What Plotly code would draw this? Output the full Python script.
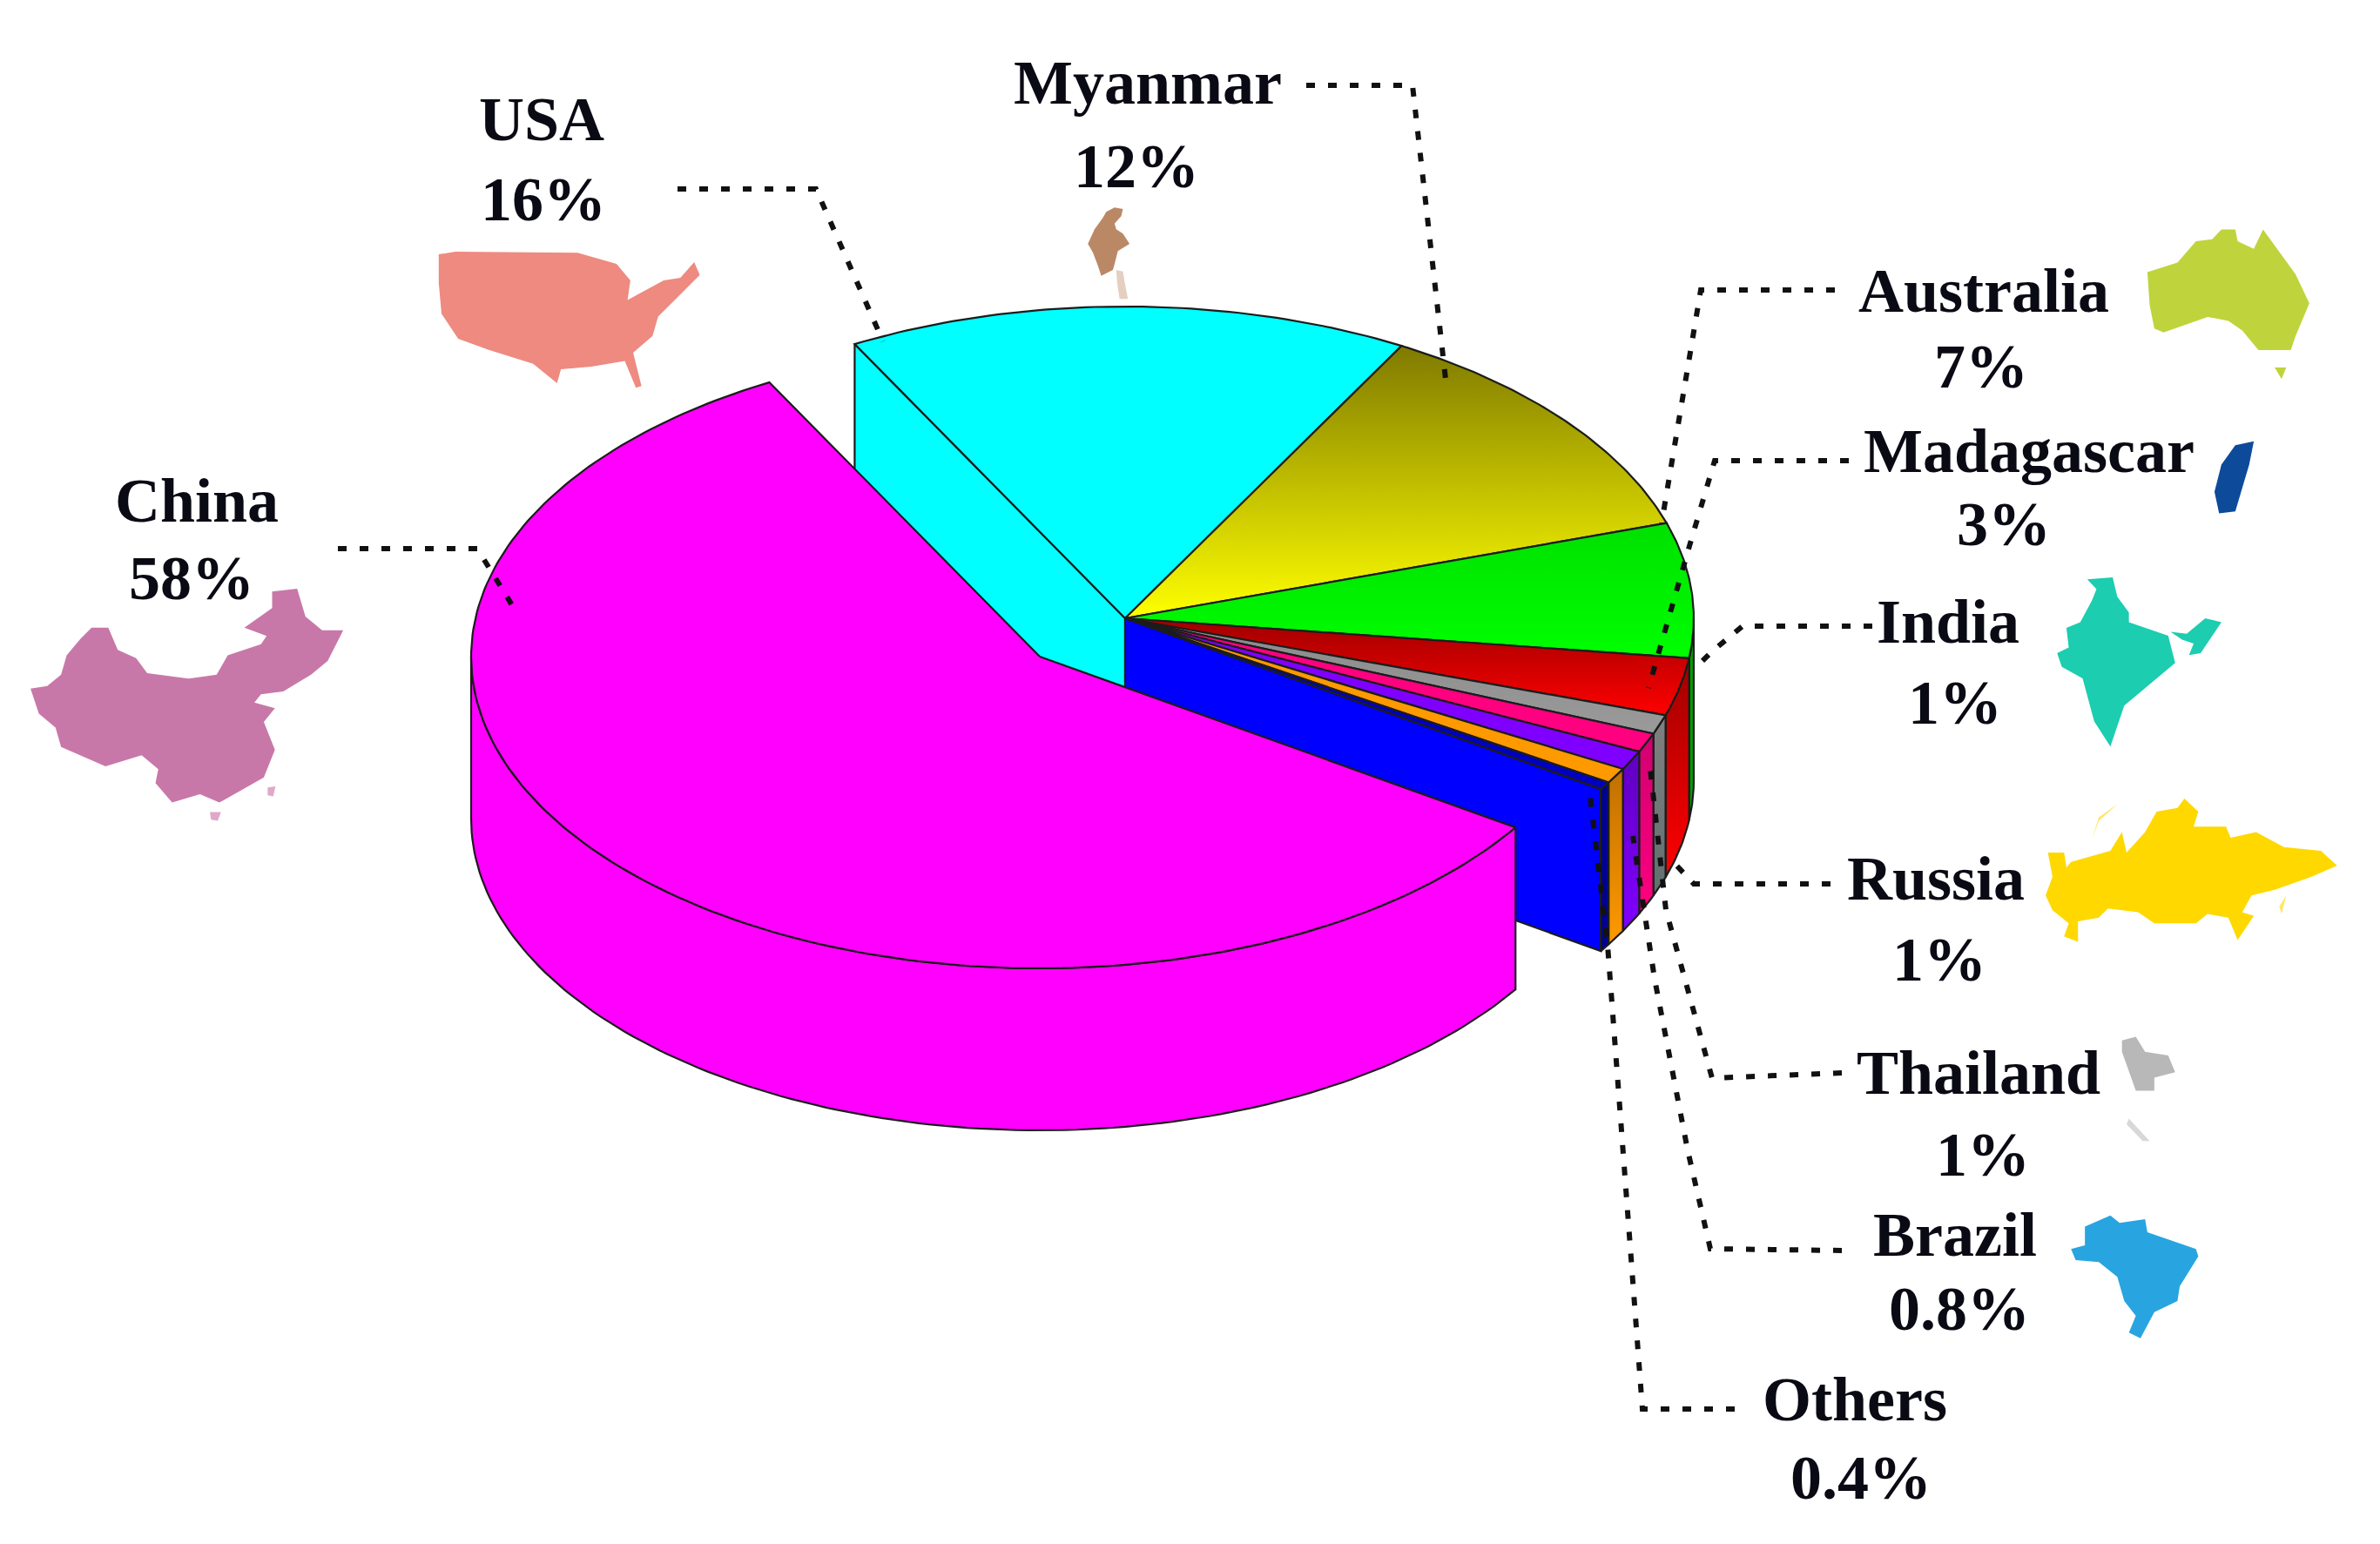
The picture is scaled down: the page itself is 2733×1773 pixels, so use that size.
import numpy as np
import plotly.graph_objects as go

# ---- data ----
countries = ["USA", "Myanmar", "Australia", "Madagascar", "India", "Russia", "Thailand", "Brazil", "Others", "China"]
shares = [16, 12, 7, 3, 1, 1, 1, 0.8, 0.4, 58]
share_labels = ["16%", "12%", "7%", "3%", "1%", "1%", "1%", "0.8%", "0.4%", "58%"]
top_colors = [["#00ffff", "#00ffff"], ["#7f7a00", "#ffff00"], ["#00e000", "#00ff00"], ["#a00000", "#ff0000"],
              ["#8a8a8a", "#9a9a9a"], ["#ff0080", "#ff0080"], ["#8000ff", "#8000ff"], ["#ff9900", "#ff9900"],
              ["#0000c0", "#0000c0"], ["#ff00ff", "#ff00ff"]]
wall_colors = [["#00ffff", "#00ffff"], ["#808000", "#808000"], ["#00a000", "#00a000"], ["#a00000", "#ff0000"],
               ["#808080", "#607070"], ["#d00070", "#ff0080"], ["#6000c0", "#8000ff"], ["#c07000", "#ff9900"],
               ["#000090", "#000090"], ["#ff00ff", "#ff00ff"]]

# ---- drawing geometry ----
W, H = 2733, 1773
RX, RY, DEPTH = 653, 358, 186
CX, CY = 1292, 710
EXPLODE = (-98, 44)
START_DEG = 118.4
EDGE = "#1c1c1c"

LABEL_SIZE = 72
name_pos = {"USA": (622, 160), "Myanmar": (1318, 118), "Australia": (2278, 357), "Madagascar": (2330, 541),
            "India": (2237, 737), "Russia": (2223, 1032), "Thailand": (2272, 1255), "Brazil": (2245, 1441),
            "Others": (2130, 1630), "China": (226, 598)}
pct_pos = {"USA": (624, 252), "Myanmar": (1305, 214), "Australia": (2275, 444), "Madagascar": (2301, 625),
           "India": (2245, 830), "Russia": (2227, 1125), "Thailand": (2277, 1349), "Brazil": (2250, 1526),
           "Others": (2137, 1720), "China": (220, 687)}

leaders = [
    [(1500, 98), (1622, 98), (1661, 444)],
    [(778, 217), (937, 217), (1014, 392)],
    [(388, 630), (548, 630), (590, 698)],
    [(2107, 333), (1953, 333), (1908, 601)],
    [(2123, 529), (1969, 529), (1940, 627), (1893, 790)],
    [(2150, 719), (2001, 719), (1966, 748), (1945, 769)],
    [(2102, 1015), (1945, 1015), (1917, 985)],
    [(2115, 1232), (1966, 1238), (1913, 1045), (1895, 883)],
    [(2115, 1436), (1964, 1434), (1938, 1321), (1900, 1124), (1875, 960)],
    [(1992, 1618), (1886, 1618), (1846, 1085), (1825, 905)],
]


def crop(points, x0, y0, sx, sy):
    return [(x0 + a / sx, y0 + b / sy) for a, b in points]


Z2 = (0, 0, 1.568, 1.568)
Z3 = (1900, 230, 1.882, 2.24)
Z4 = (1900, 900, 1.882, 2.34)
Z5 = (1100, 30, 2.613, 3)

silhouettes = [
    ("#c878a8", Z2, [(55,1240),(85,1235),(110,1215),(120,1180),(145,1150),(165,1130),(195,1130),(212,1170),(245,1185),(265,1212),(340,1222),(390,1215),(410,1180),(470,1160),(480,1145),(440,1130),(490,1095),(490,1065),(535,1060),(550,1110),(580,1135),(618,1135),(590,1190),(560,1215),(510,1245),(470,1250),(458,1265),(495,1275),(475,1300),(495,1350),(475,1400),(395,1445),(360,1430),(310,1445),(280,1410),(285,1385),(255,1360),(190,1380),(110,1345),(100,1310),(70,1285)]),
    ("#e0a8c8", Z2, [(378,1462),(398,1462),(392,1478),(380,1476)]),
    ("#e0a8c8", Z2, [(482,1418),(496,1416),(492,1434),(482,1432)]),
    ("#ee8a80", Z2, [(790,458),(820,453),(1040,455),(1110,475),(1135,505),(1130,540),(1195,505),(1225,500),(1250,472),(1260,495),(1215,540),(1185,570),(1175,605),(1140,635),(1155,695),(1145,698),(1125,650),(1065,660),(1010,665),(1003,690),(960,655),(880,630),(825,610),(795,565),(790,510)]),
    ("#bb8866", Z5, [(470,625),(495,630),(490,655),(470,680),(475,700),(495,715),(515,750),(480,775),(470,820),(465,840),(430,860),(420,825),(405,780),(390,750),(410,700),(435,660),(445,640)]),
    ("#e4cfc0", Z5, [(475,840),(495,845),(500,880),(510,940),(485,940),(478,885)]),
    ("#bfd43c", Z3, [(1065,185),(1130,160),(1170,105),(1205,100),(1225,75),(1255,75),(1260,105),(1295,125),(1315,75),(1345,125),(1385,190),(1415,265),(1385,350),(1375,385),(1305,385),(1270,335),(1240,310),(1195,300),(1100,340),(1080,330),(1070,270)]),
    ("#bfd43c", Z3, [(1340,430),(1365,430),(1355,460)]),
    ("#0d4a9a", Z3, [(1255,630),(1295,620),(1285,680),(1255,800),(1220,805),(1210,750),(1225,680)]),
    ("#1ccdb0", Z3, [(935,975),(990,970),(1000,1020),(1025,1060),(1025,1085),(1110,1120),(1125,1190),(1060,1255),(1015,1300),(985,1405),(950,1340),(925,1230),(880,1200),(870,1165),(895,1150),(890,1100),(920,1085),(945,1030),(955,1000)]),
    ("#1ccdb0", Z3, [(1115,1110),(1150,1115),(1190,1075),(1225,1085),(1180,1165),(1155,1170),(1165,1140),(1140,1130)]),
    ("#ffd800", Z4, [(845,300),(860,250),(850,185),(885,185),(890,225),(900,210),(985,180),(1010,130),(1020,185),(1060,130),(1085,75),(1130,65),(1145,40),(1175,75),(1165,115),(1235,115),(1245,145),(1300,130),(1360,170),(1440,180),(1475,220),(1420,250),(1340,285),(1290,300),(1270,345),(1295,355),(1260,420),(1240,360),(1195,350),(1170,375),(1080,375),(1045,345),(980,335),(960,360),(915,370),(915,425),(885,410),(895,375),(860,340)]),
    ("#ffe766", Z4, [(1000,55),(960,90),(945,150),(960,100)]),
    ("#ffe766", Z4, [(1365,300),(1355,350),(1350,330)]),
    ("#b8b8b8", Z4, [(1010,690),(1040,680),(1060,720),(1110,730),(1125,775),(1080,790),(1080,825),(1040,825),(1030,790),(1010,720)]),
    ("#d8d8d8", Z4, [(1025,900),(1070,960),(1055,960),(1020,915)]),
    ("#28a5e0", Z4, [(900,1250),(930,1240),(930,1190),(985,1160),(1005,1180),(1060,1170),(1065,1205),(1170,1250),(1175,1270),(1135,1350),(1130,1390),(1080,1420),(1050,1490),(1025,1475),(1040,1430),(1015,1390),(1000,1325),(960,1285),(910,1280)]),
]

fig = go.Figure()


def poly(xs, ys, colors, line=True):
    kw = {}
    if colors[0] != colors[1]:
        # the y axis runs downwards, so the scale's low end sits at the picture's bottom
        kw["fillgradient"] = dict(type="vertical", colorscale=[[0, colors[1]], [1, colors[0]]])
    else:
        kw["fillcolor"] = colors[0]
    fig.add_trace(go.Scatter(
        x=list(xs), y=list(ys), mode="lines", fill="toself",
        line=dict(color=EDGE if line else "rgba(0,0,0,0)", width=2.2),
        hoverinfo="skip", showlegend=False, **kw))


def rim(deg, cx, cy):
    a = np.radians(deg)
    return cx + RX * np.cos(a), cy - RY * np.sin(a)


total = sum(shares)
bounds = [START_DEG]
for s in shares:
    bounds.append(bounds[-1] - 360 * s / total)

china = countries.index("China")

# cut faces of the main body
x0, y0 = rim(bounds[0], CX, CY)
poly([CX, x0, x0, CX, CX], [CY, y0, y0 + DEPTH, CY + DEPTH, CY], top_colors[0])
x1, y1 = rim(bounds[china], CX, CY)
poly([CX, x1, x1, CX, CX], [CY, y1, y1 + DEPTH, CY + DEPTH, CY], ["#0000ff", "#0000ff"])

# outer walls of the main body, only where they face the viewer
for i in range(len(shares)):
    if i == china:
        continue
    a, b = min(bounds[i], 0), bounds[i + 1]
    if b >= 0:
        continue
    t = np.linspace(a, b, 20)
    xs, ys = rim(t, CX, CY)
    poly(np.r_[xs, xs[::-1], xs[0]], np.r_[ys, ys[::-1] + DEPTH, ys[0]], wall_colors[i])

# top faces of the main body
for i in range(len(shares)):
    if i == china:
        continue
    t = np.linspace(bounds[i], bounds[i + 1], 60)
    xs, ys = rim(t, CX, CY)
    poly(np.r_[CX, xs, CX], np.r_[CY, ys, CY], top_colors[i])

# exploded slice
ex, ey = CX + EXPLODE[0], CY + EXPLODE[1]
t = np.linspace(bounds[china], -180, 120)
xs, ys = rim(t, ex, ey)
poly(np.r_[xs, xs[::-1], xs[0]], np.r_[ys, ys[::-1] + DEPTH, ys[0]], wall_colors[china])
t = np.linspace(bounds[china], bounds[china + 1], 200)
xs, ys = rim(t, ex, ey)
poly(np.r_[ex, xs, ex], np.r_[ey, ys, ey], top_colors[china])

# country silhouettes
for color, z, pts in silhouettes:
    p = crop(pts, *z)
    poly([q[0] for q in p] + [p[0][0]], [q[1] for q in p] + [p[0][1]], [color, color], line=False)

# leader lines
for path in leaders:
    fig.add_trace(go.Scatter(
        x=[p[0] for p in path], y=[p[1] for p in path], mode="lines",
        line=dict(color="#111111", width=6, dash="10px,15px"),
        hoverinfo="skip", showlegend=False))

# labels
ascent = 0.891 * LABEL_SIZE
for name, pct in zip(countries, share_labels):
    for txt, (x, y) in ((name, name_pos[name]), (pct, pct_pos[name])):
        fig.add_annotation(x=x, y=y - ascent, text=f"<b>{txt}</b>", showarrow=False,
                           xanchor="center", yanchor="top", borderpad=0,
                           font=dict(family="Liberation Serif", size=LABEL_SIZE, color="#0a0a14"))

fig.update_xaxes(range=[0, W], visible=False, fixedrange=True)
fig.update_yaxes(range=[H, 0], visible=False, fixedrange=True)
fig.update_layout(width=W, height=H, margin=dict(l=0, r=0, t=0, b=0),
                  paper_bgcolor="white", plot_bgcolor="white", showlegend=False)
fig.write_html("out.html", config={"displayModeBar": False},
               post_script="document.body.style.margin='0';")
